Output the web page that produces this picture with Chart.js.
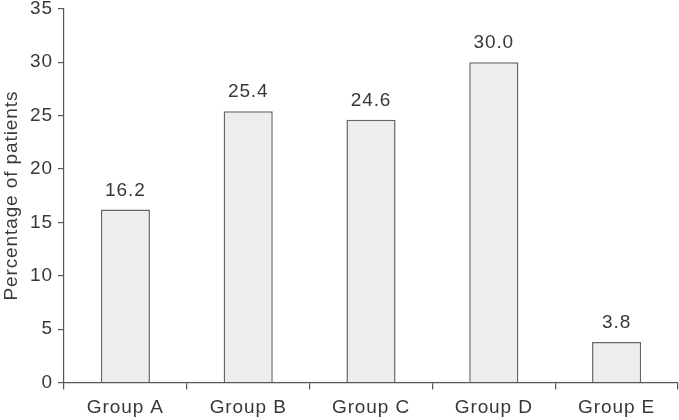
<!DOCTYPE html>
<html>
<head>
<meta charset="utf-8">
<script src="https://cdn.jsdelivr.net/npm/chart.js@4"></script>
<style>
  html, body { margin: 0; padding: 0; background: #fff; }
  #wrap { width: 679px; height: 420px; }
</style>
</head>
<body>
<div id="wrap"><canvas id="barChart" width="679" height="420"></canvas></div>
<script>
const groups = ['Group A', 'Group B', 'Group C', 'Group D', 'Group E'];
const percentages = [16.2, 25.4, 24.6, 30.0, 3.8];
const valueLabels = ['16.2', '25.4', '24.6', '30.0', '3.8'];

const textColor = '#383838';
const axisColor = '#555555';
const font = { family: '"Liberation Sans", Arial, sans-serif', size: 19 };
const spacing = '0.9px';

// the original font is a bit wider than Arial, so spread the letters
const wideText = {
  id: 'wideText',
  beforeInit(chart) { chart.ctx.letterSpacing = spacing; },
  beforeDraw(chart) { chart.ctx.letterSpacing = spacing; }
};

// writes the value a little above each bar
const barValues = {
  id: 'barValues',
  afterDatasetsDraw(chart) {
    const ctx = chart.ctx;
    const meta = chart.getDatasetMeta(0);
    ctx.save();
    ctx.letterSpacing = spacing;
    ctx.fillStyle = textColor;
    ctx.font = font.size + 'px ' + font.family;
    ctx.textAlign = 'center';
    ctx.textBaseline = 'alphabetic';
    meta.data.forEach((bar, i) => {
      ctx.fillText(valueLabels[i], bar.x, bar.y - 14);
    });
    ctx.restore();
  }
};

const ctx = document.querySelector('#barChart').getContext('2d');
const barChart = new Chart(ctx, {
  type: 'bar',
  data: {
    labels: groups,
    datasets: [{
      label: 'Percentage of patients',
      data: percentages,
      backgroundColor: '#ededed',
      borderColor: '#666666',
      borderWidth: 1.5,
      barPercentage: 0.4,
      categoryPercentage: 1.0
    }]
  },
  options: {
    responsive: false,
    animation: false,
    layout: { padding: { top: 0, right: 1, left: 0, bottom: 0 } },
    plugins: {
      legend: { display: false },
      tooltip: { enabled: false }
    },
    scales: {
      x: {
        grid: {
          offset: true,
          drawOnChartArea: false,
          drawTicks: true,
          tickLength: 7,
          color: axisColor,
          lineWidth: 1.2
        },
        border: { color: axisColor, width: 1.2 },
        ticks: { color: textColor, font: font, padding: 7, maxRotation: 0 },
        afterFit(scale) { scale.height = 37.5; }
      },
      y: {
        min: 0,
        max: 35,
        grid: {
          drawOnChartArea: false,
          drawTicks: true,
          tickLength: 6,
          color: axisColor,
          lineWidth: 1.2
        },
        border: { color: axisColor, width: 1.2 },
        ticks: {
          stepSize: 5,
          color: textColor,
          font: { family: font.family, size: font.size, lineHeight: 0.4 },
          padding: 5
        },
        title: {
          display: true,
          text: 'Percentage of patients',
          color: textColor,
          font: font,
          padding: { top: 0, bottom: 4 }
        },
        afterFit(scale) { scale.width = 64; }
      }
    }
  },
  plugins: [wideText, barValues]
});
</script>
</body>
</html>
